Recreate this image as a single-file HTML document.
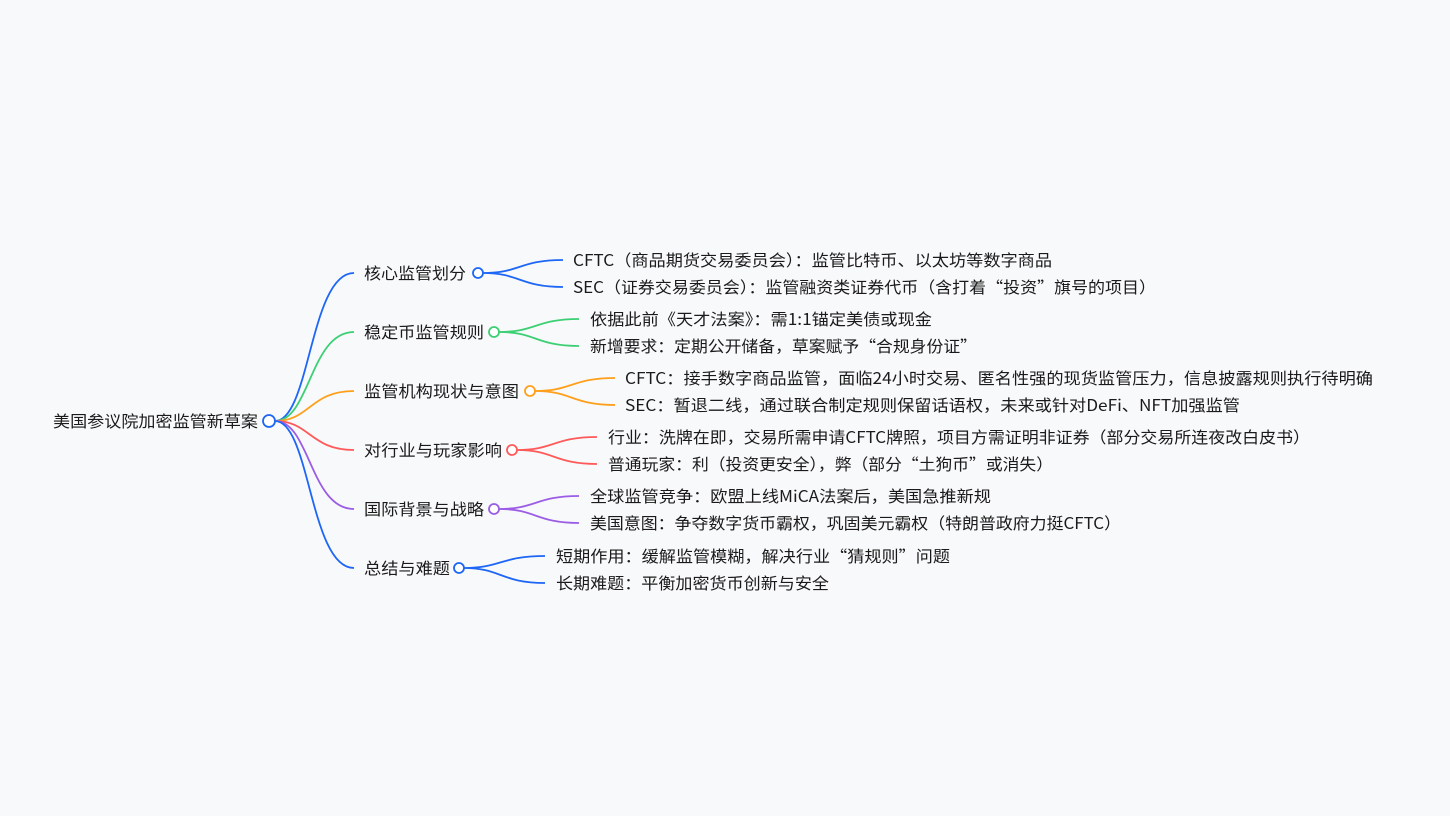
<!DOCTYPE html>
<html><head><meta charset="utf-8"><style>
html,body{margin:0;padding:0;background:#f8f9fb;}
svg{display:block}
text{font-family:"Noto Sans CJK SC","Liberation Sans",sans-serif;font-size:16px;fill:#1a1a1a;}
</style></head><body>
<svg width="1450" height="816" viewBox="0 0 1450 816" xmlns="http://www.w3.org/2000/svg">
<rect width="1450" height="816" fill="#f8f9fb"/>
<g fill="none" stroke-width="1.8">
<path d="M275 421 C310 421,310 273,354 273" stroke="#1e66f5"/>
<path d="M275 421 C310 421,310 332,354 332" stroke="#3ccf73"/>
<path d="M275 421 C310 421,310 391,354 391" stroke="#ff9f1a"/>
<path d="M275 421 C310 421,310 450,354 450" stroke="#ff5a5a"/>
<path d="M275 421 C310 421,310 509,354 509" stroke="#9b5de5"/>
<path d="M275 421 C310 421,310 568,354 568" stroke="#1e66f5"/>

<path d="M483 273 C520 273,520 260,563 260 M483 273 C520 273,520 287,563 287" stroke="#1e66f5"/>
<path d="M499 332 C536 332,536 319,579 319 M499 332 C536 332,536 346,579 346" stroke="#3ccf73"/>
<path d="M535 391 C572 391,572 378,615 378 M535 391 C572 391,572 405,615 405" stroke="#ff9f1a"/>
<path d="M517 450 C554 450,554 437,597 437 M517 450 C554 450,554 464,597 464" stroke="#ff5a5a"/>
<path d="M499 509 C536 509,536 496,579 496 M499 509 C536 509,536 523,579 523" stroke="#9b5de5"/>
<path d="M464 568 C501 568,501 556,545 556 M464 568 C501 568,501 583,545 583" stroke="#1e66f5"/>
</g>
<g fill="#fff" stroke-width="1.8">
<circle cx="269" cy="421" r="6" stroke="#1e66f5"/>
<circle cx="478" cy="273" r="5" stroke="#1e66f5"/>
<circle cx="494" cy="332" r="5" stroke="#3ccf73"/>
<circle cx="530" cy="391" r="5" stroke="#ff9f1a"/>
<circle cx="512" cy="450" r="5" stroke="#ff5a5a"/>
<circle cx="494" cy="509" r="5" stroke="#9b5de5"/>
<circle cx="459" cy="568" r="5" stroke="#1e66f5"/>
</g>
<g>
<text x="53" y="427" textLength="205" lengthAdjust="spacingAndGlyphs">美国参议院加密监管新草案</text>
<text x="364" y="279" textLength="102" lengthAdjust="spacingAndGlyphs">核心监管划分</text>
<text x="364" y="338" textLength="120" lengthAdjust="spacingAndGlyphs">稳定币监管规则</text>
<text x="364" y="397" textLength="155" lengthAdjust="spacingAndGlyphs">监管机构现状与意图</text>
<text x="364" y="456" textLength="138" lengthAdjust="spacingAndGlyphs">对行业与玩家影响</text>
<text x="364" y="515" textLength="120" lengthAdjust="spacingAndGlyphs">国际背景与战略</text>
<text x="364" y="574" textLength="86" lengthAdjust="spacingAndGlyphs">总结与难题</text>

<text x="573" y="266" textLength="479" lengthAdjust="spacingAndGlyphs">CFTC（商品期货交易委员会）：监管比特币、以太坊等数字商品</text>
<text x="573" y="293" textLength="583" lengthAdjust="spacingAndGlyphs">SEC（证券交易委员会）：监管融资类证券代币（含打着“投资”旗号的项目）</text>
<text x="590" y="325" textLength="342" lengthAdjust="spacingAndGlyphs">依据此前《天才法案》：需1:1锚定美债或现金</text>
<text x="590" y="352" textLength="387" lengthAdjust="spacingAndGlyphs">新增要求：定期公开储备，草案赋予“合规身份证”</text>
<text x="625" y="384" textLength="748" lengthAdjust="spacingAndGlyphs">CFTC：接手数字商品监管，面临24小时交易、匿名性强的现货监管压力，信息披露规则执行待明确</text>
<text x="625" y="411" textLength="615" lengthAdjust="spacingAndGlyphs">SEC：暂退二线，通过联合制定规则保留话语权，未来或针对DeFi、NFT加强监管</text>
<text x="608" y="443" textLength="702" lengthAdjust="spacingAndGlyphs">行业：洗牌在即，交易所需申请CFTC牌照，项目方需证明非证券（部分交易所连夜改白皮书）</text>
<text x="608" y="470" textLength="445" lengthAdjust="spacingAndGlyphs">普通玩家：利（投资更安全），弊（部分“土狗币”或消失）</text>
<text x="590" y="502" textLength="401" lengthAdjust="spacingAndGlyphs">全球监管竞争：欧盟上线MiCA法案后，美国急推新规</text>
<text x="590" y="529" textLength="531" lengthAdjust="spacingAndGlyphs">美国意图：争夺数字货币霸权，巩固美元霸权（特朗普政府力挺CFTC）</text>
<text x="556" y="562" textLength="394" lengthAdjust="spacingAndGlyphs">短期作用：缓解监管模糊，解决行业“猜规则”问题</text>
<text x="556" y="589" textLength="273" lengthAdjust="spacingAndGlyphs">长期难题：平衡加密货币创新与安全</text>
</g>
</svg>
</body></html>
